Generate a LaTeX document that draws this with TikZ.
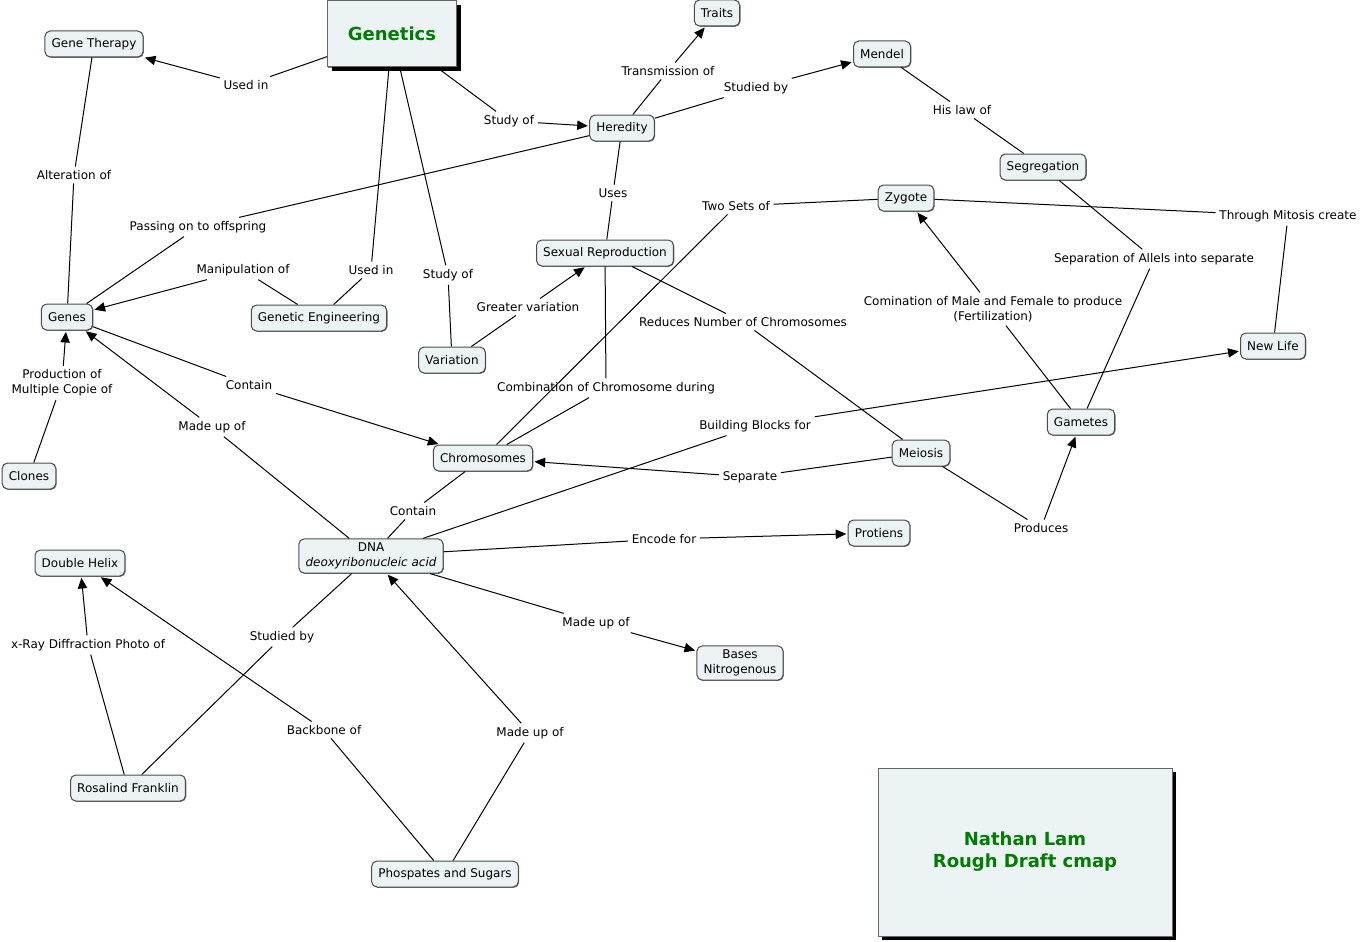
\documentclass[tikz,border=0pt]{standalone}
\usepackage{fontspec}
\setmainfont{DejaVu Sans}
\usetikzlibrary{arrows.meta,shadows}
\definecolor{cfill}{RGB}{235,243,244}
\definecolor{cgreen}{RGB}{0,125,0}

\begin{document}
\begin{tikzpicture}[x=0.75pt,y=-0.75pt,font=\fontsize{9}{11.25}\selectfont,line width=0.75pt,concept/.style={shape=rectangle,rounded corners=4pt,draw=black!70,fill=cfill,minimum height=19.5pt,inner xsep=5pt,inner ysep=2pt,align=center,drop shadow={shadow xshift=0.6pt,shadow yshift=-0.6pt,fill=black!55,opacity=1}},conceptG/.style={concept,rounded corners=0pt,draw=black!60,text=cgreen,font=\fontsize{13.5}{16.5}\selectfont\bfseries,drop shadow={shadow xshift=3pt,shadow yshift=-3pt,fill=black,opacity=1}},phrase/.style={align=center,inner sep=2.5pt},arrowto/.style={-{Triangle[length=8pt,width=7pt]},shorten >=1pt}]
\useasboundingbox (0,0) rectangle (1360,942);

\node[conceptG,minimum width=96.75pt,minimum height=49.5pt] (Genetics) at (392,34) {Genetics};
\node[conceptG,minimum width=220.5pt,minimum height=126pt] (Author) at (1025,852) {Nathan Lam\\Rough Draft cmap};

\node[concept] (GeneTherapy) at (94,44) {Gene Therapy};
\node[concept] (Traits) at (717,13) {Traits};
\node[concept] (Mendel) at (882,54) {Mendel};
\node[concept] (Heredity) at (622,128) {Heredity};
\node[concept] (Segregation) at (1043,167) {Segregation};
\node[concept] (Zygote) at (906,198) {Zygote};
\node[concept] (SexRep) at (605,253) {Sexual Reproduction};
\node[concept] (Genes) at (67,317) {Genes};
\node[concept] (GenEng) at (319,318) {Genetic Engineering};
\node[concept] (Variation) at (452,360) {Variation};
\node[concept] (NewLife) at (1273,346) {New Life};
\node[concept] (Gametes) at (1081,422) {Gametes};
\node[concept] (Meiosis) at (921,453) {Meiosis};
\node[concept] (Chrom) at (483,458) {Chromosomes};
\node[concept] (Clones) at (29,476) {Clones};
\node[concept,inner ysep=3pt] (DNA) at (371,556) {DNA\\\textit{deoxyribonucleic acid}};
\node[concept] (Protiens) at (879,533) {Protiens};
\node[concept] (Helix) at (80,563) {Double Helix};
\node[concept,inner ysep=3pt] (Bases) at (740,663) {Bases\\Nitrogenous};
\node[concept] (Rosalind) at (128,788) {Rosalind Franklin};
\node[concept] (Sugars) at (445,874) {Phospates and Sugars};

\node[phrase] (usedA) at (246,85) {Used in};
\draw (Genetics) -- (usedA);
\draw[arrowto] (usedA) -- (GeneTherapy);
\node[phrase] (studyA) at (509,121) {Study of};
\draw (Genetics) -- (studyA);
\draw[arrowto] (studyA) -- (Heredity);
\node[phrase] (usedB) at (371,270) {Used in};
\draw (Genetics) -- (usedB);
\draw (usedB) -- (GenEng);
\node[phrase] (studyB) at (448,275) {Study of};
\draw (Genetics) -- (studyB);
\draw (studyB) -- (Variation);

\node[phrase] (transm) at (668,71) {Transmission of};
\draw (Heredity) -- (transm);
\draw[arrowto] (transm) -- (Traits);
\node[phrase] (studiedA) at (756,88) {Studied by};
\draw (Heredity) -- (studiedA);
\draw[arrowto] (studiedA) -- (Mendel);
\node[phrase] (passing) at (198,227) {Passing on to offspring};
\draw (Heredity) -- (passing);
\draw (passing) -- (Genes);
\node[phrase] (uses) at (613,193) {Uses};
\draw (Heredity) -- (uses);
\draw (uses) -- (SexRep);
\node[phrase] (law) at (962,110) {His law of};
\draw (Mendel) -- (law);
\draw (law) -- (Segregation);

\node[phrase] (alter) at (74,175) {Alteration of};
\draw (GeneTherapy) -- (alter);
\draw (alter) -- (Genes);
\node[phrase] (manip) at (243,270) {Manipulation of};
\draw (GenEng) -- (manip);
\draw[arrowto] (manip) -- (Genes);
\node[phrase] (copies) at (62,383) {Production of\\Multiple Copie of};
\draw (Clones) -- (copies);
\draw[arrowto] (copies) -- (Genes);
\node[phrase] (containA) at (249,385) {Contain};
\draw (Genes) -- (containA);
\draw[arrowto] (containA) -- (Chrom);
\node[phrase] (madeA) at (212,427) {Made up of};
\draw (DNA) -- (madeA);
\draw[arrowto] (madeA) -- (Genes);

\node[phrase] (greater) at (528,307) {Greater variation};
\draw (Variation) -- (greater);
\draw[arrowto] (greater) -- (SexRep);
\node[phrase] (combi) at (606,388) {Combination of Chromosome during};
\draw (SexRep) -- (combi);
\draw (combi) -- (Chrom);
\node[phrase] (reduces) at (743,322) {Reduces Number of Chromosomes};
\draw (SexRep) -- (reduces);
\draw (reduces) -- (Meiosis);
\node[phrase] (twosets) at (736,206) {Two Sets of};
\draw (Chrom) -- (twosets);
\draw (twosets) -- (Zygote);
\node[phrase] (separate) at (750,477) {Separate};
\draw (Meiosis) -- (separate);
\draw[arrowto] (separate) -- (Chrom);
\node[phrase] (produces) at (1041,528) {Produces};
\draw (Meiosis) -- (produces);
\draw[arrowto] (produces) -- (Gametes);

\node[phrase] (fert) at (993,309) {Comination of Male and Female to produce\\(Fertilization)};
\draw (Gametes) -- (fert);
\draw[arrowto] (fert) -- (Zygote);
\node[phrase] (allels) at (1154,259) {Separation of Allels into separate};
\draw (Segregation) -- (allels);
\draw (allels) -- (Gametes);
\node[phrase] (mitosis) at (1288,216) {Through Mitosis create};
\draw (Zygote) -- (mitosis);
\draw (mitosis) -- (NewLife);
\node[phrase] (blocks) at (755,426) {Building Blocks for};
\draw (DNA) -- (blocks);
\draw[arrowto] (blocks) -- (NewLife);

\node[phrase] (containB) at (413,511) {Contain};
\draw (Chrom) -- (containB);
\draw (containB) -- (DNA);
\node[phrase] (encode) at (664,539) {Encode for};
\draw (DNA) -- (encode);
\draw[arrowto] (encode) -- (Protiens);
\node[phrase] (madeB) at (596,623) {Made up of};
\draw (DNA) -- (madeB);
\draw[arrowto] (madeB) -- (Bases);
\node[phrase] (studiedB) at (282,637) {Studied by};
\draw (DNA) -- (studiedB);
\draw (studiedB) -- (Rosalind);
\node[phrase] (xray) at (88,645) {x-Ray Diffraction Photo of};
\draw (Rosalind) -- (xray);
\draw[arrowto] (xray) -- (Helix);
\node[phrase] (backbone) at (324,730) {Backbone of};
\draw (Sugars) -- (backbone);
\draw[arrowto] (backbone) -- (Helix);
\node[phrase] (madeC) at (530,733) {Made up of};
\draw (Sugars) -- (madeC);
\draw[arrowto] (madeC) -- (DNA);
\end{tikzpicture}
\end{document}
